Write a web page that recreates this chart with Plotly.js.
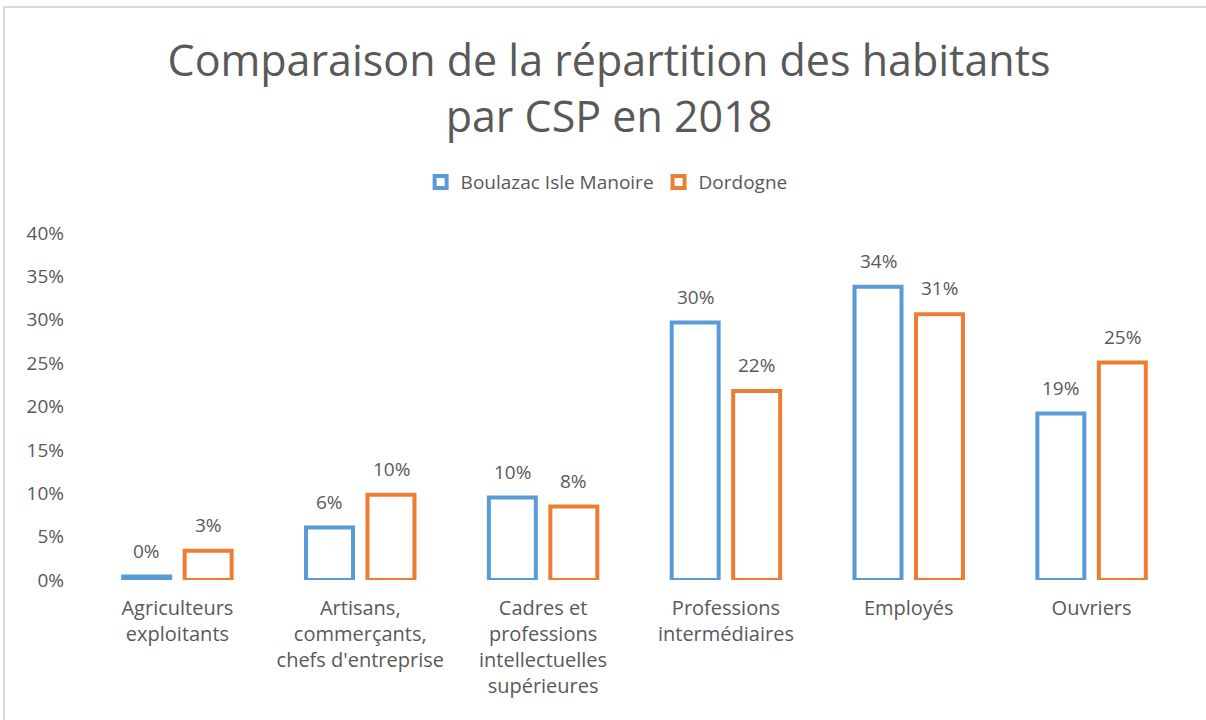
<!DOCTYPE html>
<html>
<head>
<meta charset="utf-8">
<script src="https://cdn.plot.ly/plotly-3.0.1.min.js"></script>
<style>
  html, body { margin: 0; padding: 0; background: #fff; }
  #wrap { position: relative; width: 1206px; height: 720px; overflow: hidden; }
  #frame { position: absolute; left: 3px; top: 6px; width: 1300px; height: 800px;
           border-left: 2px solid #d9d9d9; border-top: 2px solid #d9d9d9; pointer-events: none; }
  #chart { position: absolute; left: 0; top: 0; width: 1206px; height: 720px; }
</style>
</head>
<body>
<div id="wrap">
  <div id="chart"></div>
  <div id="frame"></div>
</div>
<script>
const categories = [
  "Agriculteurs<br>exploitants",
  "Artisans,<br>commerçants,<br>chefs d'entreprise",
  "Cadres et<br>professions<br>intellectuelles<br>supérieures",
  "Professions<br>intermédiaires",
  "Employés",
  "Ouvriers"
];
const seriesNames = ["Boulazac Isle Manoire", "Dordogne"];
const boulazac = [0.004, 0.0605, 0.0951, 0.2968, 0.338, 0.1919];
const dordogne = [0.0337, 0.0982, 0.0847, 0.218, 0.3064, 0.2507];
const yTickVals = [0, 0.05, 0.10, 0.15, 0.20, 0.25, 0.30, 0.35, 0.40];
const yTickText = ["0%", "5%", "10%", "15%", "20%", "25%", "30%", "35%", "40%"];

const FONT = "'Open Sans', 'Noto Sans', sans-serif";
const GREY = "#595959";
const COLORS = ["#5B9BD5", "#ED7D31"];

function barTrace(name, values, color) {
  return {
    type: "bar",
    name: name,
    x: categories,
    y: values,
    marker: { color: "#ffffff", line: { color: color, width: 4 } },
    hoverinfo: "x+y"
  };
}

const data = [
  barTrace(seriesNames[0], boulazac, COLORS[0]),
  barTrace(seriesNames[1], dordogne, COLORS[1])
];

// data labels built from the series values
const slotShift = 30.75;
const annotations = [];
[boulazac, dordogne].forEach((vals, si) => {
  vals.forEach((v, i) => {
    annotations.push({
      x: categories[i], y: v, xref: "x", yref: "y",
      text: Math.round(v * 100) + "%",
      showarrow: false,
      xanchor: "center", yanchor: "bottom",
      xshift: si === 0 ? -slotShift : slotShift,
      yshift: 11,
      font: { family: FONT, size: 19, color: GREY }
    });
  });
});

const layout = {
  width: 1206,
  height: 720,
  margin: { l: 86, r: 23, t: 233, b: 140 },
  paper_bgcolor: "rgba(0,0,0,0)",
  plot_bgcolor: "rgba(0,0,0,0)",
  font: { family: FONT, color: GREY },
  title: {
    text: "Comparaison de la répartition des habitants<br>par CSP en 2018",
    font: { family: FONT, size: 43, color: GREY },
    xref: "container", x: 0.505, xanchor: "center",
    yref: "container", y: 0.895, yanchor: "top"
  },
  barmode: "group",
  bargap: 0.3275,
  bargroupgap: 0.236,
  showlegend: true,
  legend: {
    orientation: "h",
    xref: "container", x: 0.503, xanchor: "center",
    yref: "container", y: 0.747, yanchor: "middle",
    font: { family: FONT, size: 19, color: GREY },
    itemclick: false
  },
  annotations: annotations,
  xaxis: {
    type: "category",
    showgrid: false, showline: false, zeroline: false,
    ticks: "",
    ticklabelstandoff: 14,
    tickfont: { family: FONT, size: 20, color: GREY },
    automargin: false
  },
  yaxis: {
    range: [0, 0.4],
    tickvals: yTickVals,
    ticktext: yTickText,
    showgrid: false, showline: false, zeroline: false,
    ticks: "",
    ticklabelstandoff: 21,
    tickfont: { family: FONT, size: 19, color: GREY },
    automargin: false
  }
};

Plotly.newPlot("chart", data, layout, { displayModeBar: false, staticPlot: true });
</script>
</body>
</html>
